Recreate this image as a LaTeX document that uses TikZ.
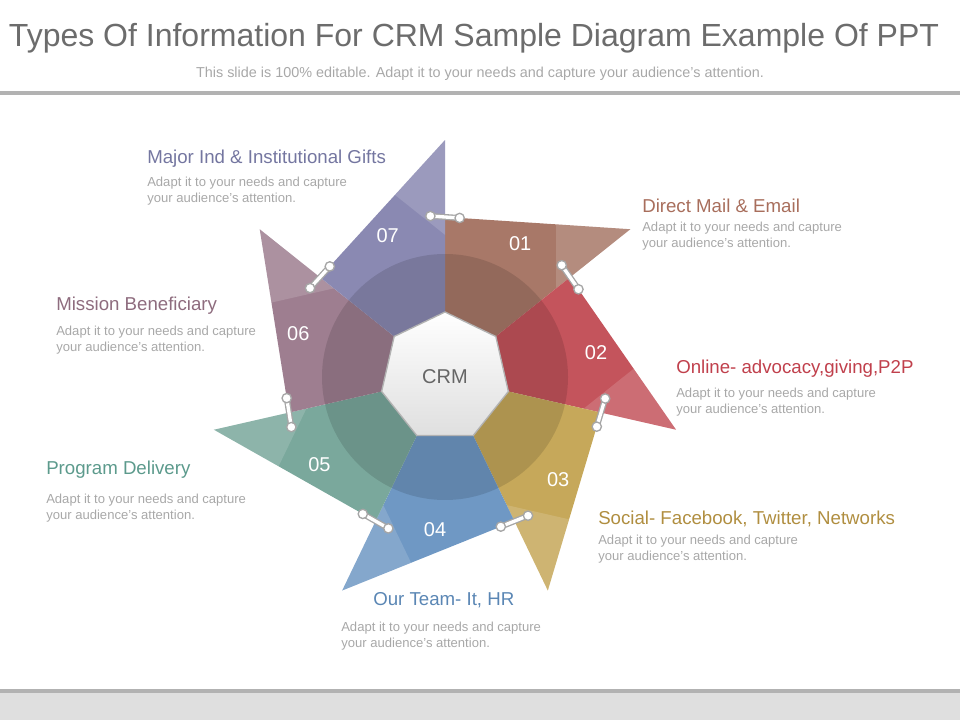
\documentclass[tikz,border=0pt]{standalone}
\usepackage{fontspec}
\setmainfont{Liberation Sans}
\usetikzlibrary{shapes.geometric,calc}
\definecolor{cA}{HTML}{A87868}
\definecolor{cB}{HTML}{C4545C}
\definecolor{cC}{HTML}{C6A85A}
\definecolor{cD}{HTML}{6F98C4}
\definecolor{cE}{HTML}{7AA89C}
\definecolor{cF}{HTML}{9E7E90}
\definecolor{cG}{HTML}{8A89B2}
\definecolor{tG}{HTML}{7476A0}
\definecolor{tA}{HTML}{A86E5C}
\definecolor{tB}{HTML}{C0404C}
\definecolor{tC}{HTML}{B08E40}
\definecolor{tD}{HTML}{5A86B4}
\definecolor{tE}{HTML}{5C9A8C}
\definecolor{tF}{HTML}{8E6C7E}
\definecolor{desc}{HTML}{A8A8A8}
\tikzset{
  ttl/.style={anchor=west,font=\fontsize{14}{16}\selectfont,inner sep=0},
  dsc/.style={anchor=north west,align=left,text=desc,font=\fontsize{9.8}{12}\selectfont,inner sep=0},
  num/.style={text=white,font=\fontsize{15}{18}\selectfont},
  pin/.style={circle,fill=white,draw=gray!70,line width=1pt,inner sep=0,minimum size=7pt}
}
\begin{document}
\begin{tikzpicture}[x=0.75pt,y=-0.75pt]
\useasboundingbox (0,0) rectangle (960,720);
\node[text=gray!85!black,font=\fontsize{24}{27}\selectfont] (title) at (474,38) {Types Of Information For CRM Sample Diagram Example Of PPT};
\node[text=desc,font=\fontsize{10.8}{12}\selectfont] (sub) at (480,74) {This slide is 100\% editable. Adapt it to your needs and capture your audience's attention.};
\draw[gray!60,line width=2.5pt] (0,93) -- (960,93);
\fill[gray!25] (0,691) rectangle (960,720);
\draw[gray!60,line width=2.5pt] (0,691) -- (960,691);
\begin{scope}[shift={(445,377)},yscale=-1]
\foreach \n/\c in {1/cA,2/cB,3/cC,4/cD,5/cE,6/cF,7/cG}{
  \pgfmathsetmacro\th{90-51.4286*\n}
  \coordinate (T\n) at (\th:237);
  \coordinate (P\n) at (\th+51.4286:160);
  \fill[\c] (0,0) -- (T\n) -- (P\n) -- cycle;
  \fill[white,opacity=0.15] (T\n) -- ($(T\n)!0.4!(0,0)$) -- ($(T\n)!0.4!(P\n)$) -- cycle;
}
\fill[black,opacity=0.12] (0,0) circle (123);
\foreach \n in {1,...,7}{
  \pgfmathsetmacro\th{90-51.4286*\n}
  \node[num] (N\n) at (\th+22:153) {0\n};
  \coordinate (Ua\n) at ($(P\n)!-11pt!(T\n)$);
  \coordinate (Ub\n) at ($(P\n)!11pt!(T\n)$);
  \draw[gray!70,line width=4.5pt,line cap=round] (Ua\n) -- (Ub\n);
  \draw[white,line width=2.5pt,line cap=round] (Ua\n) -- (Ub\n);
  \node[pin] (Ka\n) at (Ua\n) {};
  \node[pin] (Kb\n) at (Ub\n) {};
}
\end{scope}
\node[regular polygon,regular polygon sides=7,minimum size=97.5pt,inner sep=0,draw=gray!60,line width=1pt,top color=white,bottom color=gray!25,font=\fontsize{15}{18}\selectfont,text=gray!80!black] (crm) at (445,377) {CRM};
% labels
\node[ttl,text=tG] (l7) at (147,159) {Major Ind \& Institutional Gifts};
\node[dsc] (d7) at (147,177) {Adapt it to your needs and capture\\your audience's attention.};
\node[ttl,text=tA] (l1) at (642,206) {Direct Mail \& Email};
\node[dsc] (d1) at (642,222) {Adapt it to your needs and capture\\your audience's attention.};
\node[ttl,text=tB] (l2) at (676,369) {Online- advocacy,giving,P2P};
\node[dsc] (d2) at (676,388) {Adapt it to your needs and capture\\your audience's attention.};
\node[ttl,text=tC] (l3) at (598,519) {Social- Facebook, Twitter, Networks};
\node[dsc] (d3) at (598,535) {Adapt it to your needs and capture\\your audience's attention.};
\node[ttl,text=tD] (l4) at (373,600) {Our Team- It, HR};
\node[dsc] (d4) at (341,622) {Adapt it to your needs and capture\\your audience's attention.};
\node[ttl,text=tE] (l5) at (46,470) {Program Delivery};
\node[dsc] (d5) at (46,494) {Adapt it to your needs and capture\\your audience's attention.};
\node[ttl,text=tF] (l6) at (56,306) {Mission Beneficiary};
\node[dsc] (d6) at (56,326) {Adapt it to your needs and capture\\your audience's attention.};
\end{tikzpicture}
\end{document}
